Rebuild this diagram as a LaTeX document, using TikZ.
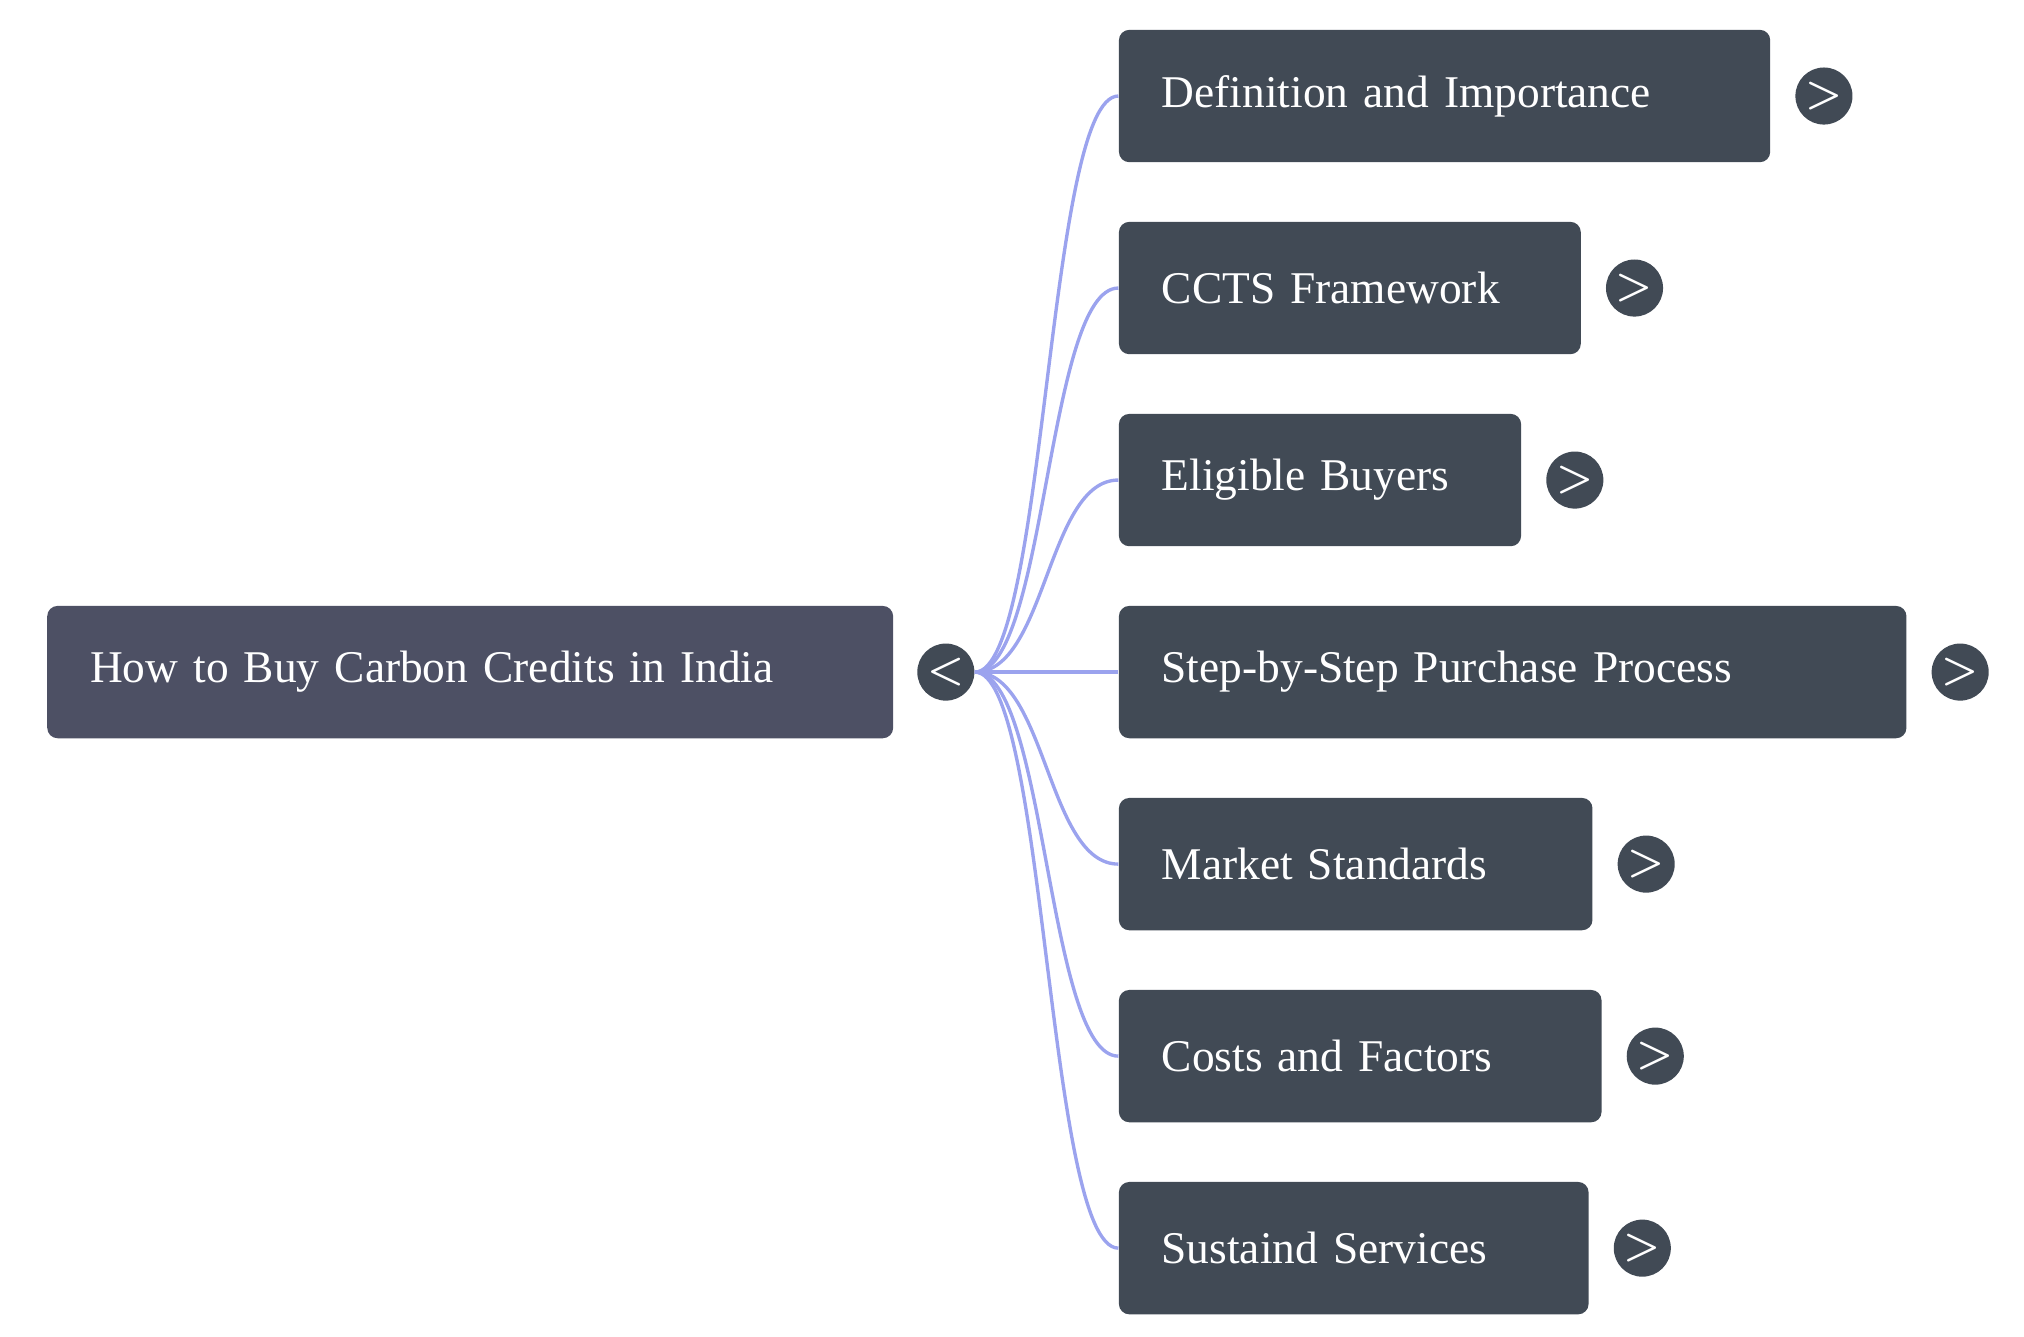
\documentclass[tikz,border=0pt]{standalone}
\usepackage{fontspec}
\setmainfont{Liberation Serif}
\usepackage{tikz}
\definecolor{rootcolor}{HTML}{4D5064}
\definecolor{piececolor}{HTML}{414A55}
\definecolor{edgecolor}{HTML}{9BA3EE}
\tikzset{
  box/.style={fill=piececolor, rounded corners=4pt, anchor=west, text=white,
    minimum height=51pt, inner xsep=16.5pt, align=left, text width=#1, font=\fontsize{17.5}{20}\selectfont},
  knob/.style={circle, fill=piececolor, minimum size=22pt, inner sep=0pt, text=white,
    font=\sffamily\bfseries\fontsize{16}{20}\selectfont},
  edge/.style={draw=edgecolor, line width=1.3pt}
}
\begin{document}
\begin{tikzpicture}[x=0.5pt, y=-0.5pt]
\useasboundingbox (0,0) rectangle (1560,1030);
\def\boxx{862}
% root
\node[box=293pt, fill=rootcolor] (root) at (36,518) {How to Buy Carbon Credits in India};
\node[knob] (rootknob) at (729,518) {<};
% children
\foreach \name/\y/\w/\label in {
  def/74/502/Definition and Importance,
  ccts/222/356/CCTS Framework,
  elig/370/310/Eligible Buyers,
  step/518/607/Step-by-Step Purchase Process,
  market/666/365/Market Standards,
  costs/814/372/Costs and Factors,
  serv/962/362/Sustaind Services}{
  \pgfmathsetmacro\tw{(\w-66)/2}
  \node[box=\tw pt] (\name) at (\boxx,\y) {\label};
  \node[knob] (\name knob) at ([xshift=20.5pt]\name.east) {>};
  \draw[edge] (rootknob.east) .. controls +(55,0) and +(-55,0) .. (\name.west);
}
\end{tikzpicture}
\end{document}
